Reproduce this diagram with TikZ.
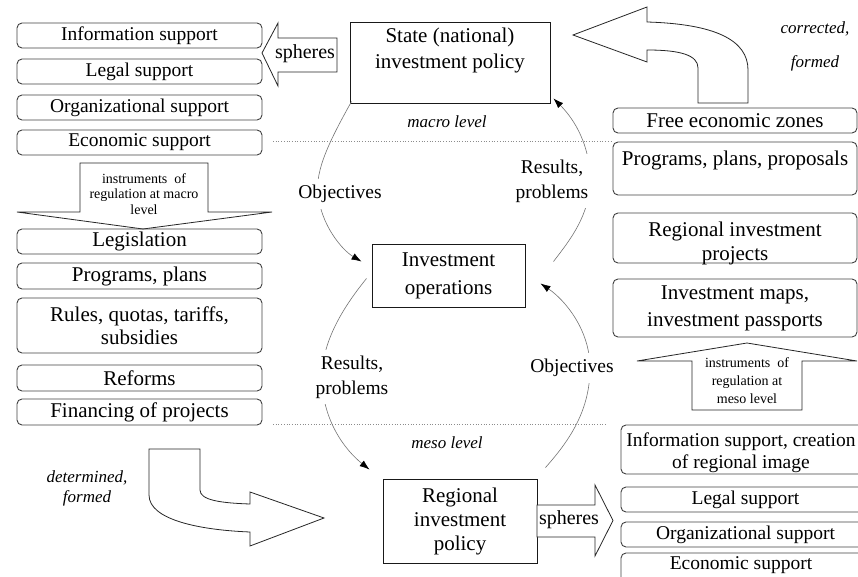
\documentclass[tikz,border=0pt]{standalone}
\usepackage{fontspec}
\setmainfont{Liberation Serif}
\usetikzlibrary{arrows.meta,calc}
\begin{document}
\begin{tikzpicture}[x=1pt,y=-1pt,
  rbox/.style={draw=black!75, line width=0.9pt, rounded corners=5pt, inner sep=0pt, align=center},
  sbox/.style={draw=black!90, line width=0.9pt, inner sep=0pt, align=center},
  fa/.style={font=\fontsize{21}{24}\selectfont},
  fb/.style={font=\fontsize{19.5}{22}\selectfont},
  fi/.style={font=\fontsize{17}{20}\selectfont\itshape},
  lab/.style={fill=white, inner xsep=8pt, inner ysep=6pt, align=center, font=\fontsize{19.5}{25}\selectfont},
  conn/.style={draw=black!55, line width=0.6pt},
  tipc/.style={-{Latex[length=10pt,width=7pt,color=black]}},
  barrow/.style={draw=black!85, line width=0.8pt, fill=white, line join=miter},
  lvl/.style={draw=black!45, line width=0.7pt, dotted},
]
\useasboundingbox (0,0) rectangle (858,577);
\clip (0,0) rectangle (858,577);

% ---------- left column ----------
\node[rbox, fb, minimum width=245, minimum height=25] (l1) at (139.5,35.5) {Information support};
\node[rbox, fb, minimum width=245, minimum height=25] (l2) at (139.5,71.5) {Legal support};
\node[rbox, fb, minimum width=245, minimum height=25] (l3) at (139.5,107.5) {Organizational support};
\node[rbox, fb, minimum width=245, minimum height=25] (l4) at (139.5,142.5) {Economic support};

\draw[barrow] (80,163) -- (208,163) -- (208,212) -- (272,212) -- (143,229) -- (17,212) -- (80,212) -- cycle;
\node[align=center, font=\fontsize{14}{15.5}\selectfont] (imacro) at (144,194) {instruments\ \ of\\regulation at macro\\level};

\node[rbox, fa, minimum width=245, minimum height=25] (l5) at (139.5,241.5) {Legislation};
\node[rbox, fa, minimum width=245, minimum height=26] (l6) at (139.5,276) {Programs, plans};
\node[rbox, minimum width=245, minimum height=55, font=\fontsize{21}{23}\selectfont] (l7) at (139.5,325.5) {Rules, quotas, tariffs,\\subsidies};
\node[rbox, fa, minimum width=245, minimum height=26] (l8) at (139.5,378) {Reforms};
\node[rbox, fa, minimum width=245, minimum height=26] (l9) at (139.5,412) {Financing of projects};

% spheres (top)
\draw[barrow] (262,53) -- (278,23) -- (278,38) -- (337,38) -- (337,72) -- (278,72) -- (278,86) -- cycle;
\node[font=\fontsize{20}{24}\selectfont, inner sep=0pt] (sp1) at (305,54) {spheres};

% ---------- centre ----------
\node[sbox, minimum width=200, minimum height=81] (st) at (450,62.5) {};
\node[align=center, font=\fontsize{21}{26}\selectfont] (stt) at (450,50) {State (national)\\investment policy};

\node[fi] (macro) at (447,122) {macro level};
\node[fi] (meso) at (447,443) {meso level};
\draw[lvl] (273,141) -- (612,141);
\draw[lvl] (273,424) -- (607,424);

\node[sbox, minimum width=153, minimum height=63, font=\fontsize{21}{28}\selectfont] (io) at (448.5,275.5) {Investment\\operations};
\node[sbox, minimum width=154, minimum height=84, font=\fontsize{21}{24}\selectfont] (rp) at (460,521) {Regional\\investment\\policy};

% connectors
\draw[conn, tipc] ($(st.south west)+(2,-2)$) .. controls (330,140) and (315,170) .. (318,194)
   .. controls (321,225) and (342,250) .. ($(io.north west)+(-10,18)$);
\draw[conn, tipc] ($(io.north east)+(28,18)$) .. controls (570,240) and (590,215) .. (590,180)
   .. controls (590,140) and (570,115) .. ($(st.south east)+(3,-5)$);
\draw[conn, tipc] ($(io.south west)+(-5,-29)$) .. controls (345,305) and (322,340) .. (322,377)
   .. controls (322,420) and (345,450) .. ($(rp.north west)+(-13,-9)$);
\draw[conn, tipc] ($(rp.north east)+(8,-11)$) .. controls (570,440) and (590,410) .. (590,368)
   .. controls (590,330) and (565,300) .. ($(io.south east)+(15,-24)$);

\node[lab] (obj1) at (340,194) {Objectives};
\node[lab] (res1) at (552,181) {Results,\\problems};
\node[lab] (res2) at (352,377) {Results,\\problems};
\node[lab] (obj2) at (572,368) {Objectives};

% spheres (bottom)
\draw[barrow] (537,505) -- (595,505) -- (595,485) -- (613,520.5) -- (595,556) -- (595,537) -- (537,537) -- cycle;
\node[font=\fontsize{20}{24}\selectfont, inner sep=0pt] (sp2) at (569,520) {spheres};

% curved block arrows
\draw[barrow] (573,35) -- (647,7) -- (647,22) .. controls (715,24) and (748,40) .. (748,70)
   -- (748,103) -- (698,103) -- (698,68) .. controls (698,55) and (680,50) .. (647,50)
   -- (647,62) -- cycle;
\node[align=center, font=\fontsize{17}{34}\selectfont\itshape] (corr) at (815,46) {corrected,\\formed};

\draw[barrow] (149,449) -- (200,449) -- (200,490) .. controls (200,500) and (220,503) .. (250,504)
   -- (250,492) -- (324,518) -- (250,546) -- (250,532) .. controls (200,530) and (149,520) .. (149,495)
   -- cycle;
\node[align=center, font=\fontsize{17}{20}\selectfont\itshape] (det) at (87,488) {determined,\\formed};

% ---------- right column ----------
\node[rbox, fa, minimum width=244, minimum height=25] (r1) at (735,120.5) {Free economic zones};
\node[rbox, minimum width=244, minimum height=53] (r2) at (735,168.5) {};
\node[fa] (r2t) at (735,160) {Programs, plans, proposals};
\node[rbox, minimum width=244, minimum height=50] (r3) at (735,238) {};
\node[align=center, font=\fontsize{21}{24}\selectfont] (r3t) at (735,243) {Regional investment\\projects};
\node[rbox, minimum width=244, minimum height=58, font=\fontsize{21}{27}\selectfont] (r4) at (735,308) {Investment maps,\\investment passports};

\draw[barrow] (692,410) -- (802,410) -- (802,361) -- (857,361) -- (747,343) -- (637,361) -- (692,361) -- cycle;
\node[align=center, font=\fontsize{14}{18}\selectfont] (imeso) at (747,381) {instruments\ \ of\\regulation at\\meso level};

\node[rbox, minimum width=249, minimum height=49] (b1) at (745.5,449.5) {};
\node[align=center, font=\fontsize{19.5}{22}\selectfont] (b1t) at (741,453) {Information support, creation\\of regional image};
\node[rbox, fb, minimum width=249, minimum height=25] (b2) at (745.5,499.5) {Legal support};
\node[rbox, fb, minimum width=249, minimum height=25] (b3) at (745.5,534.5) {Organizational support};
\node[rbox, minimum width=249, minimum height=47] (b4) at (745.5,576.5) {};
\node[fb] (b4t) at (741,565) {Economic support};
\end{tikzpicture}
\end{document}
